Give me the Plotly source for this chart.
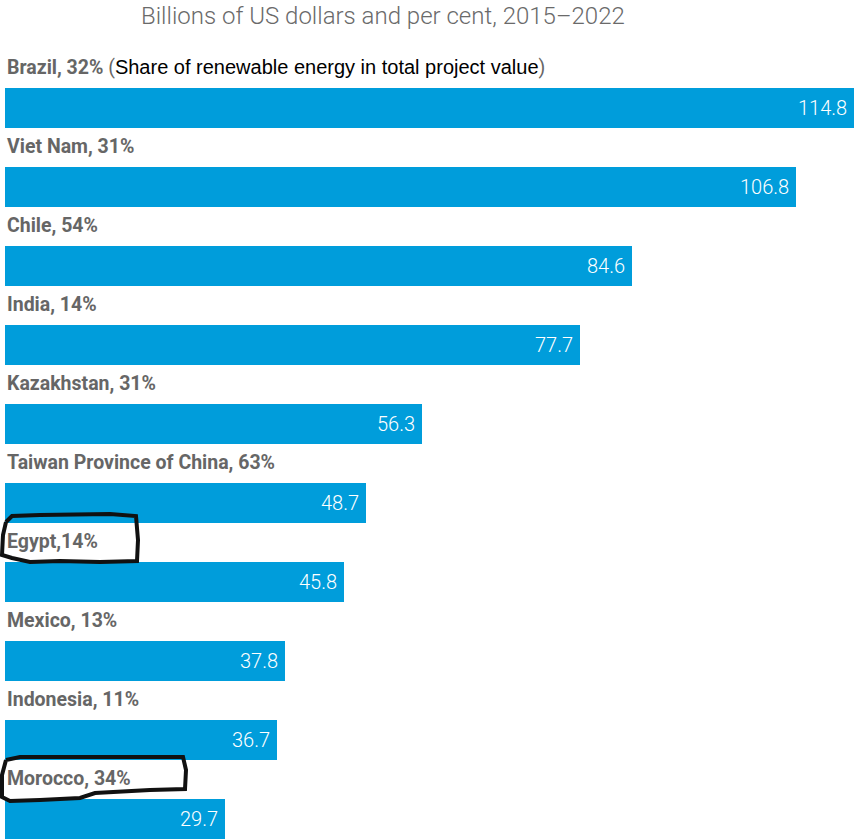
import plotly.graph_objects as go

countries = ["Brazil", "Viet Nam", "Chile", "India", "Kazakhstan",
             "Taiwan Province of China", "Egypt", "Mexico", "Indonesia", "Morocco"]
shares = ["32%", "31%", "54%", "14%", "31%", "63%", "14%", "13%", "11%", "34%"]
values = [114.8, 106.8, 84.6, 77.7, 56.3, 48.7, 45.8, 37.8, 36.7, 29.7]
title_text = "Billions of US dollars and per cent, 2015\u20132022"
note_text = "Share of renewable energy in total project value"

W, H = 854, 839
BAR = "#009ddb"
GRAY = "#666666"

idx = list(range(len(countries)))

fig = go.Figure()
fig.add_trace(go.Bar(
    x=values, y=idx, orientation="h",
    marker=dict(color=BAR, line=dict(width=0)),
    width=0.506, hoverinfo="skip", showlegend=False,
))

annotations = []
for i, (c, s, v) in enumerate(zip(countries, shares, values)):
    sep = "," if c == "Egypt" else ", "
    lab = f"<b>{c}{sep}{s}</b>"
    if i == 0:
        lab += (" (<span style='font-family:Liberation Sans, Arial;color:#000000;font-size:20px'>"
                + note_text + "</span>)")
    annotations.append(dict(
        x=0, y=i - 0.515, xref="x", yref="y", text=lab, showarrow=False,
        xanchor="left", yanchor="middle",
        font=dict(family="Roboto", size=19.5, color=GRAY),
    ))
    annotations.append(dict(
        x=min(v, 114.6), y=i, xref="x", yref="y", text=f"{v:.1f}", showarrow=False,
        xanchor="right", yanchor="middle", xshift=-5,
        font=dict(family="Roboto", size=20, color="white", weight=300),
    ))

annotations.append(dict(
    x=383 / W, y=1 - 16 / H, xref="paper", yref="paper", text=title_text,
    showarrow=False, xanchor="center", yanchor="middle",
    font=dict(family="Roboto", size=24, color="#6a6a6a", weight=300),
))


def pix_path(points):
    parts = []
    for k, (px, py) in enumerate(points):
        parts.append(("M " if k == 0 else "L ") + f"{px / W:.5f},{1 - py / H:.5f}")
    return " ".join(parts)


egypt_box = [(6, 522), (12, 516), (40, 515), (110, 514), (136, 516), (138, 540),
             (137, 561), (100, 562), (60, 561), (30, 562), (12, 558), (2, 555),
             (3, 535), (6, 522)]
morocco_box = [(6, 760), (20, 757), (100, 757), (183, 757), (186, 770), (185, 789),
               (150, 790), (95, 793), (80, 798), (40, 800), (10, 801), (2, 797),
               (2, 775), (6, 760)]

shapes = [dict(type="path", path=pix_path(b), xref="paper", yref="paper",
               line=dict(color="#111111", width=4)) for b in (egypt_box, morocco_box)]

fig.update_layout(
    width=W, height=H,
    margin=dict(l=0, r=0, t=0, b=0),
    paper_bgcolor="white", plot_bgcolor="white",
    xaxis=dict(range=[-5 / 7.406, (W - 5) / 7.406], visible=False, fixedrange=True),
    yaxis=dict(range=[9.253, -1.367], visible=False, fixedrange=True),
    annotations=annotations, shapes=shapes, bargap=0,
)

fig.write_html("out.html", config={"displayModeBar": False},
               post_script="document.body.style.margin='0px';"
               "document.body.style.overflow='hidden';")
